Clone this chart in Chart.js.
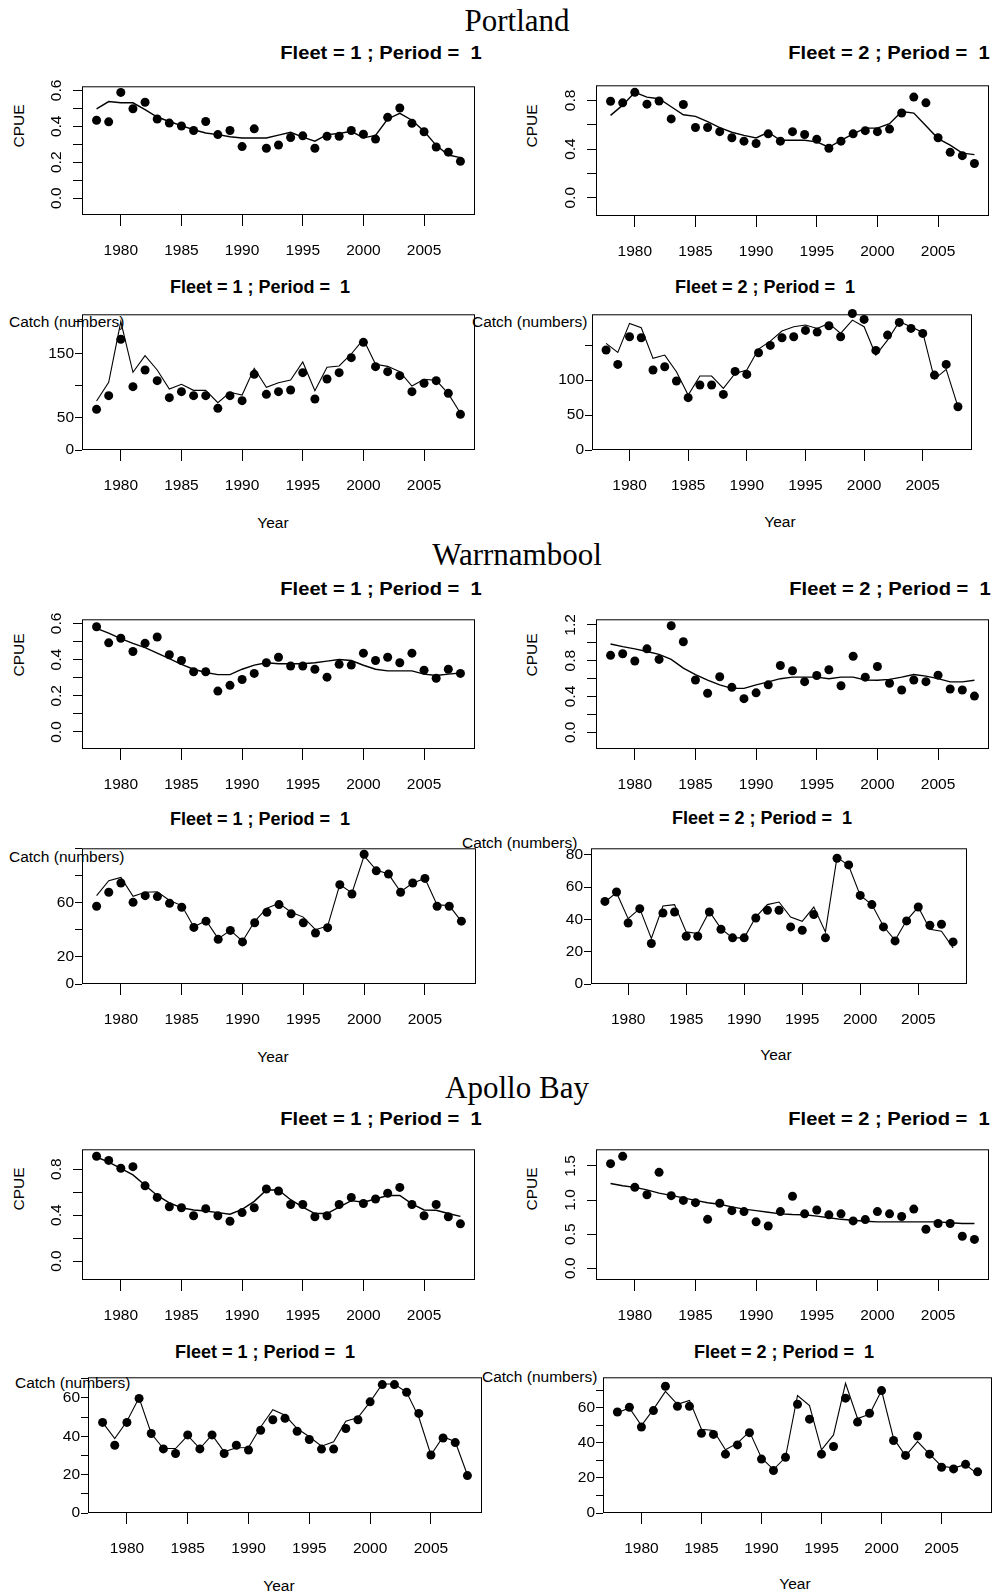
<!DOCTYPE html>
<html>
<head>
<meta charset="utf-8">
<script src="https://cdn.jsdelivr.net/npm/chart.js@4.4.0/dist/chart.umd.min.js"></script>
<style>
  body { margin: 0; background: #fff; width: 1000px; height: 1595px; position: relative; overflow: hidden;
         font-family: "Liberation Sans", Arial, sans-serif; color: #000; }
  canvas { position: absolute; }
  .site { position: absolute; font-family: "Liberation Serif", "Times New Roman", serif; font-size: 31px;
          transform: translate(-50%, -50%); white-space: nowrap; }
  .ttl { position: absolute; font-weight: bold; font-size: 18px; transform: translate(-50%, -50%); white-space: nowrap; }
  .ttl.wide { font-size: 17.5px; transform: translate(-50%, -50%) scaleX(1.15); }
  .lab { position: absolute; font-size: 15.5px; white-space: nowrap; transform: translate(-50%, -50%); }
  .lab.rot { transform: translate(-50%, -50%) rotate(-90deg); }
  .lab.lft { transform: translate(0, -50%); }
</style>
</head>
<body>

<div class="site" style="left:517px;top:21px">Portland</div>
<div class="site" style="left:517px;top:555px">Warrnambool</div>
<div class="site" style="left:517px;top:1088px">Apollo Bay</div>

<div class="ttl wide" style="left:381px;top:53px">Fleet = 1 ; Period =&nbsp; 1</div>
<div class="ttl wide" style="left:889px;top:53px">Fleet = 2 ; Period =&nbsp; 1</div>
<div class="ttl" style="left:260px;top:287px">Fleet = 1 ; Period =&nbsp; 1</div>
<div class="ttl" style="left:765px;top:287px">Fleet = 2 ; Period =&nbsp; 1</div>
<div class="ttl wide" style="left:381px;top:589px">Fleet = 1 ; Period =&nbsp; 1</div>
<div class="ttl wide" style="left:890px;top:589px">Fleet = 2 ; Period =&nbsp; 1</div>
<div class="ttl" style="left:260px;top:819px">Fleet = 1 ; Period =&nbsp; 1</div>
<div class="ttl" style="left:762px;top:818px">Fleet = 2 ; Period =&nbsp; 1</div>
<div class="ttl wide" style="left:381px;top:1119px">Fleet = 1 ; Period =&nbsp; 1</div>
<div class="ttl wide" style="left:889px;top:1119px">Fleet = 2 ; Period =&nbsp; 1</div>
<div class="ttl" style="left:265px;top:1352px">Fleet = 1 ; Period =&nbsp; 1</div>
<div class="ttl" style="left:784px;top:1352px">Fleet = 2 ; Period =&nbsp; 1</div>

<div class="lab rot" style="left:19px;top:126px">CPUE</div>
<div class="lab rot" style="left:532px;top:126px">CPUE</div>
<div class="lab rot" style="left:19px;top:655px">CPUE</div>
<div class="lab rot" style="left:532px;top:655px">CPUE</div>
<div class="lab rot" style="left:19px;top:1189px">CPUE</div>
<div class="lab rot" style="left:532px;top:1189px">CPUE</div>

<div class="lab lft" style="left:9px;top:322px">Catch (numbers)</div>
<div class="lab lft" style="left:472px;top:322px">Catch (numbers)</div>
<div class="lab lft" style="left:9px;top:857px">Catch (numbers)</div>
<div class="lab lft" style="left:462px;top:843px">Catch (numbers)</div>
<div class="lab lft" style="left:15px;top:1383px">Catch (numbers)</div>
<div class="lab lft" style="left:482px;top:1377px">Catch (numbers)</div>

<div class="lab" style="left:273px;top:523px">Year</div>
<div class="lab" style="left:780px;top:522px">Year</div>
<div class="lab" style="left:273px;top:1057px">Year</div>
<div class="lab" style="left:776px;top:1055px">Year</div>
<div class="lab" style="left:279px;top:1586px">Year</div>
<div class="lab" style="left:795px;top:1584px">Year</div>

<script>
const years = [1978, 1979, 1980, 1981, 1982, 1983, 1984, 1985, 1986, 1987, 1988, 1989, 1990, 1991, 1992,
  1993, 1994, 1995, 1996, 1997, 1998, 1999, 2000, 2001, 2002, 2003, 2004, 2005, 2006, 2007, 2008];
const yearTicks = [1980, 1985, 1990, 1995, 2000, 2005];

// Portland
const portCpue1Obs = [0.434, 0.425, 0.589, 0.498, 0.534, 0.441, 0.418, 0.402, 0.377, 0.427, 0.354, 0.377, 0.287, 0.386, 0.278, 0.296, 0.338, 0.347, 0.278, 0.345, 0.345, 0.377, 0.356, 0.329, 0.450, 0.502, 0.417, 0.370, 0.285, 0.256, 0.205];
const portCpue1Fit = [0.497, 0.538, 0.531, 0.531, 0.493, 0.452, 0.427, 0.404, 0.381, 0.363, 0.354, 0.342, 0.335, 0.335, 0.335, 0.351, 0.367, 0.340, 0.317, 0.354, 0.360, 0.372, 0.336, 0.349, 0.441, 0.472, 0.434, 0.372, 0.294, 0.240, 0.226];
const portCpue2Obs = [0.793, 0.780, 0.866, 0.769, 0.795, 0.648, 0.766, 0.577, 0.577, 0.543, 0.493, 0.465, 0.446, 0.525, 0.465, 0.543, 0.520, 0.480, 0.407, 0.465, 0.525, 0.551, 0.543, 0.564, 0.696, 0.827, 0.780, 0.493, 0.373, 0.346, 0.281];
const portCpue2Fit = [0.677, 0.761, 0.866, 0.827, 0.814, 0.748, 0.682, 0.669, 0.625, 0.577, 0.538, 0.512, 0.491, 0.538, 0.472, 0.472, 0.472, 0.459, 0.415, 0.472, 0.525, 0.572, 0.572, 0.609, 0.709, 0.696, 0.591, 0.486, 0.433, 0.367, 0.354];
const portCatch1Obs = [63.5, 84.9, 172.9, 99, 125, 108.3, 81.8, 91.1, 84.9, 84.9, 65.1, 84.9, 77.1, 118.2, 87, 91.1, 93.8, 120.8, 79.7, 110.9, 120.8, 144.3, 168.2, 130.2, 122.4, 116.1, 91.1, 104.2, 108.3, 88.5, 55.7];
const portCatch1Fit = [76.6, 105.7, 200.5, 121.4, 147.4, 125, 95.3, 102.6, 93.2, 93.2, 74, 90.1, 85.9, 127.6, 97.9, 105.2, 109.4, 137.5, 92.7, 129.2, 131.3, 150, 172.9, 133.9, 130.7, 122.4, 100, 110.4, 108.9, 88, 57.3];
const portCatch2Obs = [142.9, 122.4, 161.9, 160.5, 114.3, 119, 98.6, 74.8, 92.9, 92.9, 79.5, 112.4, 108.1, 139, 149.5, 160.5, 161.9, 171, 168.6, 177.6, 161.9, 195.2, 186.7, 142.4, 164.3, 182.4, 173.8, 166.7, 107.1, 122.4, 61.9];
const portCatch2Fit = [152.4, 139.5, 181, 174.8, 131, 135.7, 111.9, 78.6, 105.7, 105.7, 88.1, 109.5, 114.3, 144.3, 155.7, 170, 176.2, 178.6, 173.8, 181, 166.7, 185.7, 176.2, 135.7, 157.1, 183.3, 176.2, 168.1, 101.4, 115.2, 61.9];

// Warrnambool
const warrCpue1Obs = [0.582, 0.493, 0.518, 0.445, 0.490, 0.525, 0.427, 0.395, 0.333, 0.333, 0.226, 0.258, 0.290, 0.324, 0.383, 0.413, 0.365, 0.365, 0.347, 0.303, 0.374, 0.370, 0.436, 0.395, 0.413, 0.383, 0.436, 0.342, 0.297, 0.347, 0.324];
const warrCpue1Fit = [0.573, 0.547, 0.516, 0.490, 0.466, 0.436, 0.406, 0.374, 0.347, 0.329, 0.317, 0.317, 0.347, 0.370, 0.383, 0.377, 0.377, 0.377, 0.383, 0.392, 0.401, 0.395, 0.369, 0.347, 0.338, 0.338, 0.338, 0.320, 0.312, 0.320, 0.326];
const warrCpue2Obs = [0.860, 0.878, 0.796, 0.932, 0.814, 1.190, 1.011, 0.584, 0.437, 0.620, 0.502, 0.376, 0.441, 0.530, 0.746, 0.688, 0.566, 0.634, 0.699, 0.520, 0.849, 0.616, 0.735, 0.548, 0.473, 0.584, 0.566, 0.638, 0.484, 0.473, 0.405];
const warrCpue2Fit = [0.986, 0.957, 0.932, 0.903, 0.871, 0.814, 0.717, 0.645, 0.584, 0.530, 0.491, 0.491, 0.530, 0.563, 0.599, 0.616, 0.616, 0.616, 0.599, 0.616, 0.616, 0.584, 0.581, 0.591, 0.616, 0.645, 0.627, 0.599, 0.563, 0.563, 0.581];
const warrCatch1Obs = [57.3, 67.6, 74.4, 60.2, 65.1, 64.4, 59.5, 56.6, 41.7, 46.3, 32.9, 39.5, 31, 45.1, 52.9, 58.5, 51.7, 45.1, 37.6, 41.5, 73.2, 66.3, 95.6, 83.4, 81, 67.6, 74.4, 77.8, 57.3, 57.3, 46.3];
const warrCatch1Fit = [65.1, 76.1, 78.5, 64.6, 67.6, 68, 61.5, 57.8, 42, 46.8, 33.4, 39.5, 31.5, 46.1, 55.9, 59.5, 52.9, 49.3, 40, 42.7, 73.2, 67.1, 94.4, 83.9, 81, 68, 74.4, 77.8, 58.3, 57.8, 46.1];
const warrCatch2Obs = [51.2, 57, 37.8, 46.7, 25.1, 44, 44.6, 29.6, 29.6, 44.6, 33.9, 28.6, 28.6, 40.9, 45.7, 45.7, 35.4, 33.3, 43, 28.6, 77.9, 73.8, 54.9, 49.2, 35.4, 26.7, 39.1, 47.7, 36.4, 37, 26.1];
const warrCatch2Fit = [50.8, 56.6, 40.5, 46.7, 28.2, 48.3, 49.2, 32.3, 31.3, 45, 34.3, 28.6, 28.6, 41.5, 49.2, 50.8, 41.5, 38.9, 47.7, 32.3, 78.6, 73.4, 54.9, 49.2, 35.8, 27.1, 39.5, 47.7, 33.9, 32.7, 22.4];

// Apollo Bay
const apolCpue1Obs = [0.912, 0.876, 0.808, 0.822, 0.655, 0.554, 0.473, 0.464, 0.394, 0.456, 0.394, 0.347, 0.422, 0.464, 0.627, 0.610, 0.492, 0.492, 0.386, 0.394, 0.492, 0.554, 0.501, 0.540, 0.590, 0.641, 0.492, 0.394, 0.492, 0.386, 0.324];
const apolCpue1Fit = [0.906, 0.862, 0.806, 0.750, 0.660, 0.571, 0.506, 0.464, 0.445, 0.436, 0.422, 0.408, 0.450, 0.520, 0.618, 0.618, 0.534, 0.470, 0.414, 0.414, 0.470, 0.526, 0.512, 0.540, 0.571, 0.571, 0.498, 0.445, 0.442, 0.414, 0.389];
const apolCpue2Obs = [1.533, 1.641, 1.186, 1.078, 1.406, 1.064, 0.994, 0.961, 0.717, 0.952, 0.844, 0.830, 0.680, 0.619, 0.830, 1.055, 0.797, 0.853, 0.783, 0.797, 0.694, 0.713, 0.830, 0.797, 0.759, 0.867, 0.572, 0.656, 0.656, 0.469, 0.422];
const apolCpue2Fit = [1.242, 1.210, 1.186, 1.149, 1.102, 1.069, 1.031, 0.994, 0.961, 0.938, 0.900, 0.867, 0.844, 0.820, 0.797, 0.788, 0.783, 0.764, 0.741, 0.717, 0.703, 0.689, 0.680, 0.680, 0.680, 0.680, 0.680, 0.680, 0.666, 0.656, 0.656];
const apolCatch1Obs = [47.2, 35.3, 47.2, 59.7, 41.4, 33.4, 31, 40.7, 33.4, 40.7, 31, 35.3, 32.8, 43.1, 48.6, 49.3, 42.6, 38.3, 33.3, 33.3, 44, 48.6, 57.9, 66.9, 66.9, 62.9, 51.9, 30.2, 39.1, 36.7, 19.5];
const apolCatch1Fit = [47.2, 38.8, 47.8, 60, 41.4, 33.6, 33.6, 40.3, 33.6, 40.7, 31.9, 34, 34.1, 44.8, 53.8, 50.9, 44, 39.7, 34.8, 37.1, 47.8, 49.7, 57.9, 67.2, 67.2, 62.9, 50, 30.2, 39.7, 37.1, 19.8];
const apolCatch2Obs = [57.7, 60.4, 49.1, 58.5, 72.4, 60.9, 60.9, 45.5, 44.9, 33.6, 38.9, 45.9, 30.8, 24.3, 31.8, 62.1, 53.6, 33.6, 38, 65.6, 51.9, 57, 69.9, 41.4, 32.9, 44, 33.6, 26.1, 25.2, 27.8, 23.5];
const apolCatch2Fit = [57.2, 60, 49.9, 59.2, 69.4, 62.1, 64.3, 47.8, 47.1, 36.1, 39.9, 46.5, 31.4, 24.8, 31.8, 67.1, 61.4, 36.1, 44.6, 74.1, 54, 56.4, 69.9, 42.6, 32.7, 40.8, 33.6, 26.7, 25.8, 27.6, 22.2];

// y tick values and the labels R printed for them ('' = tick without label)
const cpueTicksA = [0, 0.1, 0.2, 0.3, 0.4, 0.5, 0.6];
const cpueLabelsA = ['0.0', '', '0.2', '', '0.4', '', '0.6'];
const cpueTicksB = [0, 0.2, 0.4, 0.6, 0.8];
const cpueLabelsB = ['0.0', '', '0.4', '', '0.8'];
const cpueTicksC = [0, 0.2, 0.4, 0.6, 0.8, 1.0, 1.2];
const cpueLabelsC = ['0.0', '', '0.4', '', '0.8', '', '1.2'];
const cpueTicksD = [0, 0.5, 1.0, 1.5];
const cpueLabelsD = ['0.0', '0.5', '1.0', '1.5'];
const catchTicksP1 = [0, 50, 100, 150, 200];
const catchLabelsP1 = ['0', '50', '', '150', ''];
const catchTicksP2 = [0, 50, 100, 150];
const catchLabelsP2 = ['0', '50', '100', ''];
const catchTicksW1 = [0, 20, 40, 60, 80, 100];
const catchLabelsW1 = ['0', '20', '', '60', '', ''];
const catchTicksW2 = [0, 20, 40, 60, 80];
const catchLabelsW2 = ['0', '20', '40', '60', '80'];
const catchTicksA = [0, 10, 20, 30, 40, 50, 60, 70];
const catchLabelsA = ['0', '', '20', '', '40', '', '60', ''];

// box = [left, top, right, bottom] of each plot frame on the page
const panels = [
  { box: [82, 81, 475, 215], cpue: true, y: [-0.094, 0.623], ticks: cpueTicksA, labels: cpueLabelsA, obs: portCpue1Obs, fit: portCpue1Fit },
  { box: [596, 80, 989, 216], cpue: true, y: [-0.150, 0.924], ticks: cpueTicksB, labels: cpueLabelsB, obs: portCpue2Obs, fit: portCpue2Fit },
  { box: [82, 314, 475, 450], cpue: false, y: [0, 212], ticks: catchTicksP1, labels: catchLabelsP1, obs: portCatch1Obs, fit: portCatch1Fit },
  { box: [592, 314, 972, 450], cpue: false, y: [0, 194], ticks: catchTicksP2, labels: catchLabelsP2, obs: portCatch2Obs, fit: portCatch2Fit },
  { box: [82, 614, 475, 749], cpue: true, y: [-0.094, 0.623], ticks: cpueTicksA, labels: cpueLabelsA, obs: warrCpue1Obs, fit: warrCpue1Fit },
  { box: [596, 614, 989, 749], cpue: true, y: [-0.186, 1.262], ticks: cpueTicksC, labels: cpueLabelsC, obs: warrCpue2Obs, fit: warrCpue2Fit },
  { box: [82, 848, 476, 984], cpue: false, y: [0, 100], ticks: catchTicksW1, labels: catchLabelsW1, obs: warrCatch1Obs, fit: warrCatch1Fit },
  { box: [591, 848, 967, 984], cpue: false, y: [0, 84.1], ticks: catchTicksW2, labels: catchLabelsW2, obs: warrCatch2Obs, fit: warrCatch2Fit },
  { box: [82, 1144, 475, 1280], cpue: true, y: [-0.165, 0.973], ticks: cpueTicksB, labels: cpueLabelsB, obs: apolCpue1Obs, fit: apolCpue1Fit },
  { box: [596, 1144, 989, 1280], cpue: true, y: [-0.173, 1.744], ticks: cpueTicksD, labels: cpueLabelsD, obs: apolCpue2Obs, fit: apolCpue2Fit },
  { box: [88, 1377, 482, 1513], cpue: false, y: [0, 70.7], ticks: catchTicksA, labels: catchLabelsA, obs: apolCatch1Obs, fit: apolCatch1Fit },
  { box: [603, 1377, 992, 1513], cpue: false, y: [0, 77.5], ticks: catchTicksA, labels: catchLabelsA, obs: apolCatch2Obs, fit: apolCatch2Fit },
];

Chart.defaults.font.family = '"Liberation Sans", Arial, sans-serif';
Chart.defaults.font.size = 15.5;
Chart.defaults.color = '#000';

const frame = {
  id: 'frame',
  beforeDatasetsDraw(chart) {
    const a = chart.chartArea, c = chart.ctx;
    c.save();
    c.strokeStyle = '#000';
    c.lineWidth = 1;
    c.strokeRect(a.left + 0.5, a.top + 0.5, a.right - a.left - 1, a.bottom - a.top - 1);
    c.restore();
  }
};

const PAD_L = 70, PAD_T = 10, PAD_R = 10, PAD_B = 60;

function toXY(vals) {
  return vals.map((v, i) => ({ x: years[i], y: v }));
}

function drawPanel(p) {
  const [l, t, r, b] = p.box;
  const w = r - l + PAD_L + PAD_R, h = b - t + PAD_T + PAD_B;
  const cv = document.createElement('canvas');
  cv.width = w; cv.height = h;
  cv.style.left = (l - PAD_L) + 'px';
  cv.style.top = (t - PAD_T) + 'px';
  cv.style.width = w + 'px';
  cv.style.height = h + 'px';
  document.body.appendChild(cv);

  const yTickOpts = p.cpue
    ? { minRotation: 90, maxRotation: 90, crossAlign: 'center', padding: 6, autoSkip: false }
    : { crossAlign: 'near', padding: 1, autoSkip: false };

  new Chart(cv, {
    type: 'line',
    data: {
      datasets: [
        { data: toXY(p.obs), showLine: false, pointRadius: 4.5, pointBackgroundColor: '#000',
          pointBorderWidth: 0, clip: false },
        { data: toXY(p.fit), borderColor: '#000', borderWidth: p.cpue ? 1.4 : 1.1, pointRadius: 0,
          fill: false, tension: 0, clip: false }
      ]
    },
    options: {
      responsive: false,
      animation: false,
      layout: { padding: { left: 0, top: PAD_T, right: PAD_R, bottom: 0 } },
      plugins: { legend: { display: false }, tooltip: { enabled: false } },
      scales: {
        x: {
          type: 'linear', min: 1976.8, max: 2009.2,
          afterBuildTicks: (s) => { s.ticks = yearTicks.map((v) => ({ value: v })); },
          afterFit: (s) => { s.height = PAD_B; },
          grid: { drawOnChartArea: false, drawTicks: true, tickLength: 11, color: '#000', lineWidth: 1 },
          border: { display: false },
          ticks: { padding: 15, maxRotation: 0, autoSkip: false, callback: (v) => String(v) }
        },
        y: {
          type: 'linear', min: p.y[0], max: p.y[1],
          afterBuildTicks: (s) => { s.ticks = p.ticks.map((v) => ({ value: v })); },
          afterFit: (s) => { s.width = PAD_L; },
          grid: { drawOnChartArea: false, drawTicks: true, tickLength: p.cpue ? 9 : 7, color: '#000', lineWidth: 1 },
          border: { display: false },
          ticks: Object.assign({ callback: (v, i) => p.labels[i] }, yTickOpts)
        }
      }
    },
    plugins: [frame]
  });
}

panels.forEach(drawPanel);
</script>
</body>
</html>
